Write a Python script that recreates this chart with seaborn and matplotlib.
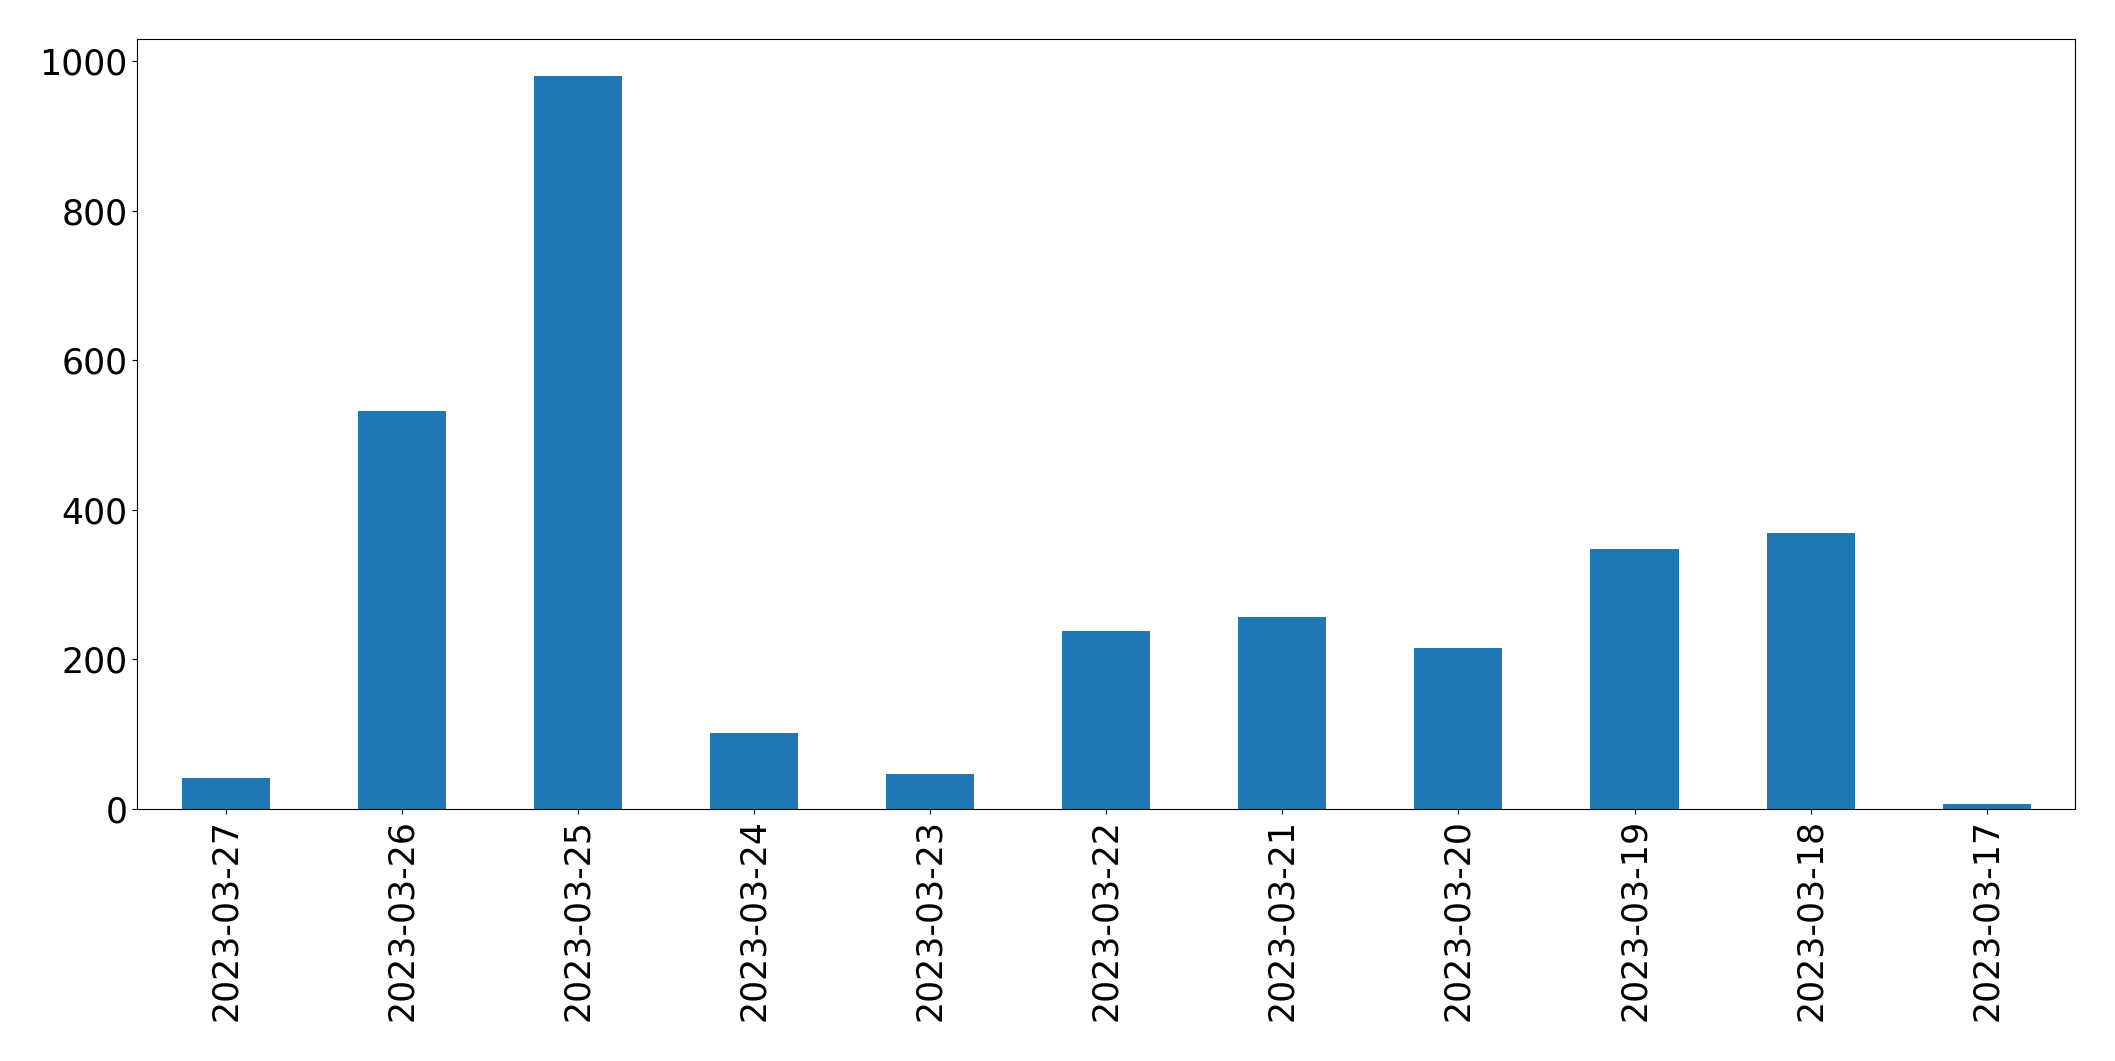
import pandas as pd
import matplotlib
matplotlib.use("Agg")
import matplotlib.pyplot as plt
import seaborn as sns

dates = ["2023-03-27", "2023-03-26", "2023-03-25", "2023-03-24", "2023-03-23",
         "2023-03-22", "2023-03-21", "2023-03-20", "2023-03-19", "2023-03-18",
         "2023-03-17"]
counts = [42, 532, 980, 102, 47, 238, 257, 215, 347, 369, 7]

df = pd.DataFrame({"date": dates, "count": counts})

fig, ax = plt.subplots(figsize=(21.15, 10.61), dpi=100)
sns.barplot(data=df, x="date", y="count", order=dates, color="#1f77b4",
            saturation=1, width=0.5, linewidth=0, ax=ax)
ax.set_xlabel("")
ax.set_ylabel("")
ax.set_yticks([0, 200, 400, 600, 800, 1000])
ax.tick_params(axis="both", labelsize=25)
plt.setp(ax.get_xticklabels(), rotation=90)
fig.subplots_adjust(left=0.065, right=0.981, top=0.963, bottom=0.2375)
fig.savefig("out.png")
